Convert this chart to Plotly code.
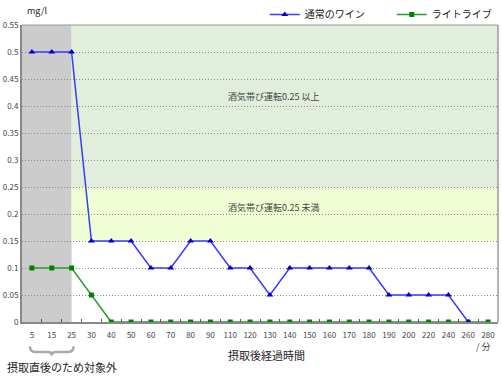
import plotly.graph_objects as go

categories = ["5", "15", "25", "30", "40", "50", "60", "70", "80", "90", "110", "120",
              "130", "140", "150", "160", "170", "180", "190", "200", "220", "240", "260", "280"]
normal_wine = [0.5, 0.5, 0.5, 0.15, 0.15, 0.15, 0.1, 0.1, 0.15, 0.15, 0.1, 0.1,
               0.05, 0.1, 0.1, 0.1, 0.1, 0.1, 0.05, 0.05, 0.05, 0.05, 0, None]
light_live = [0.1, 0.1, 0.1, 0.05, 0, 0, 0, 0, 0, 0, 0, 0,
              0, 0, 0, 0, 0, 0, 0, 0, 0, 0, 0, 0]
y_ticks = [0, 0.05, 0.1, 0.15, 0.2, 0.25, 0.3, 0.35, 0.4, 0.45, 0.5, 0.55]
y_labels = ["0", "0.05", "0.1", "0.15", "0.2", "0.25", "0.3", "0.35", "0.4", "0.45", "0.5", "0.55"]

FONT = "Noto Sans CJK JP"
n = len(categories)
idx = list(range(n))

fig = go.Figure()
fig.add_trace(go.Scatter(
    x=idx, y=light_live, name="ライトライブ", mode="lines+markers",
    line=dict(color="#2f9a2f", width=1.5),
    marker=dict(symbol="square", size=5, color="#008000"),
))
fig.add_trace(go.Scatter(
    x=idx, y=normal_wine, name="通常のワイン", mode="lines+markers",
    line=dict(color="#3a3aff", width=1.5),
    marker=dict(symbol="triangle-up", size=6, color="#0000cc"),
))

# background bands
fig.add_shape(type="rect", xref="x", yref="y", x0=-0.5, x1=2, y0=0, y1=0.55,
              fillcolor="#cccccc", line_width=0, layer="below")
fig.add_shape(type="rect", xref="x", yref="y", x0=2, x1=n - 0.5, y0=0.25, y1=0.55,
              fillcolor="#e1eedc", line_width=0, layer="below")
fig.add_shape(type="rect", xref="x", yref="y", x0=2, x1=n - 0.5, y0=0.15, y1=0.25,
              fillcolor="#effed4", line_width=0, layer="below")
# plot frame top/right
fig.add_shape(type="line", xref="paper", yref="paper", x0=1, x1=1, y0=0, y1=1,
              line=dict(color="#999999", width=1.5))
fig.add_shape(type="line", xref="paper", yref="paper", x0=0, x1=1, y0=1, y1=1,
              line=dict(color="#999999", width=1))

# bracket under first three categories
fig.add_shape(type="path", xref="x", yref="paper",
              path="M -0.1,-0.082 Q -0.1,-0.101 0.15,-0.101 L 0.8,-0.101 Q 1,-0.101 1,-0.113 "
                   "Q 1,-0.101 1.2,-0.101 L 1.85,-0.101 Q 2.1,-0.101 2.1,-0.082",
              line=dict(color="#aaaaaa", width=2.5))

fig.update_layout(
    width=502, height=377,
    margin=dict(l=22, r=4, t=25, b=55, autoexpand=False),
    plot_bgcolor="white", paper_bgcolor="white",
    font=dict(family=FONT, size=8, color="#333333"),
    showlegend=True,
    legend=dict(orientation="h", x=0.51, xanchor="left", y=1.0, yanchor="top",
                yref="container", traceorder="reversed",
                font=dict(size=10, color="#222222"),
                entrywidth=82, itemwidth=30, bgcolor="rgba(0,0,0,0)"),
    xaxis=dict(
        tickmode="array", tickvals=idx, ticktext=categories,
        range=[-0.5, n - 0.5], showgrid=False, zeroline=False,
        showline=True, linecolor="#888888", linewidth=2,
        ticks="", tickfont=dict(size=8, color="#444444"),
        ticklabelstandoff=4,
        minor=dict(tickmode="array", tickvals=[i + 0.5 for i in idx[:-1]],
                   ticks="inside", ticklen=3, tickcolor="#555555", tickwidth=1),
    ),
    yaxis=dict(
        tickmode="array", tickvals=y_ticks, ticktext=y_labels,
        range=[0, 0.55], showgrid=True, gridcolor="#8a8a8a", griddash="1px,2px", gridwidth=1,
        zeroline=False, showline=True, linecolor="#888888", linewidth=2,
        ticks="", tickfont=dict(size=8, color="#444444"),
    ),
    annotations=[
        dict(text="mg/l", x=0.006, y=1.02, xref="paper", yref="paper", showarrow=False,
             xanchor="left", yanchor="bottom", font=dict(size=9, color="#222222")),
        dict(text="酒気帯び運転0.25 以上", x=0.53, y=0.418, xref="paper", yref="y",
             showarrow=False, font=dict(size=9, color="#444444")),
        dict(text="酒気帯び運転0.25 未満", x=0.53, y=0.212, xref="paper", yref="y",
             showarrow=False, font=dict(size=9, color="#444444")),
        dict(text="摂取後経過時間", x=0.513, y=-0.078, xref="paper", yref="paper",
             showarrow=False, yanchor="top", font=dict(size=11, color="#222222")),
        dict(text="/ 分", x=0.99, y=-0.054, xref="paper", yref="paper",
             showarrow=False, yanchor="top", xanchor="right", font=dict(size=9, color="#444444")),
        dict(text="摂取直後のため対象外", x=-0.036, y=-0.118, xref="paper", yref="paper",
             showarrow=False, yanchor="top", xanchor="left", font=dict(size=11, color="#222222")),
    ],
)

fig.write_html("out.html")
